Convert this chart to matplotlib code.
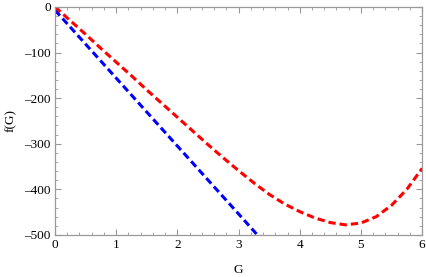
import matplotlib
matplotlib.use("Agg")
import matplotlib.pyplot as plt
from matplotlib.ticker import MultipleLocator

# values
G_RED = [0, 0.25, 0.5, 0.75, 1, 1.25, 1.5, 1.75, 2, 2.25, 2.5, 2.75, 3,
         3.25, 3.5, 3.75, 4, 4.25, 4.5, 4.75, 5, 5.25, 5.5, 5.75, 6]
F_RED = [0, -30, -60, -91, -121, -151, -182, -212, -242, -272, -302, -331, -359,
         -386, -411, -432, -449, -463, -473, -478, -474, -460, -435, -400, -354]

G_BLUE = [0, 1, 2, 3, 3.5]
F_BLUE = [-7, -156, -305, -454, -529]

X_TICKS = [0, 1, 2, 3, 4, 5, 6]
Y_TICKS = [0, -100, -200, -300, -400, -500]

plt.rcParams['font.family'] = ['Liberation Serif', 'DejaVu Serif']

fig = plt.figure(figsize=(4.26, 2.77), dpi=100)
ax = fig.add_axes([0.129, 0.152, 0.862, 0.823])

ax.plot(G_BLUE, F_BLUE, color=(0, 0, 1), lw=2.2, dashes=[2.4, 1.3])
ax.plot(G_RED, F_RED, color=(1, 0, 0), lw=2.2, dashes=[2.4, 1.3])

ax.set_xlim(0, 6)
ax.set_ylim(-500, 0)
ax.set_xticks(X_TICKS)
ax.set_yticks(Y_TICKS)
ax.set_yticklabels(["0" if v == 0 else "\u2013" + str(-v) for v in Y_TICKS])
ax.xaxis.set_minor_locator(MultipleLocator(0.2))
ax.yaxis.set_minor_locator(MultipleLocator(20))

frame = '#999999'
for s in ax.spines.values():
    s.set_color(frame)
    s.set_linewidth(0.9)
ax.tick_params(which='both', direction='in', top=True, right=True,
               color=frame, labelsize=9.5, labelcolor='black', pad=3)
ax.tick_params(which='major', length=4, width=0.8)
ax.tick_params(which='minor', length=2, width=0.6)

ax.set_xlabel("G", fontsize=9.5, labelpad=9)
ax.set_ylabel("f(G)", fontsize=9.5, labelpad=5)

fig.savefig("out.png", dpi=100)
